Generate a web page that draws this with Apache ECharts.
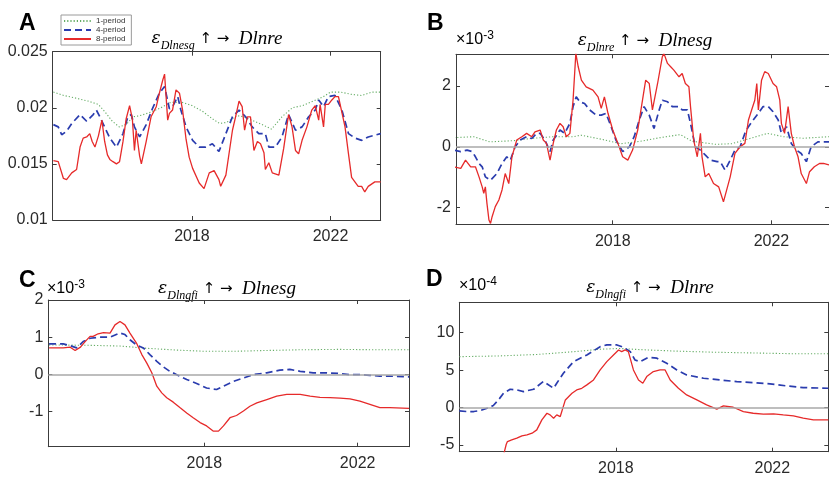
<!DOCTYPE html>
<html>
<head>
<meta charset="utf-8">
<script src="https://cdn.jsdelivr.net/npm/echarts@6/dist/echarts.min.js"></script>
<style>
html,body{margin:0;padding:0;background:#fff;}
#chart{width:829px;height:477px;}
</style>
</head>
<body>
<div id="chart"></div>
<script>
// data points are [year, value]; B and C in units of 1e-3, D in units of 1e-4
var seriesNames = ['1-period', '4-period', '8-period'];
var yearTicks = [2018, 2022];
var aTicks = [0.01, 0.015, 0.02, 0.025];
var bTicks = [-2, 0, 2];
var cTicks = [-1, 0, 1, 2];
var dTicks = [-5, 0, 5, 10];

// A: eps Dlnesg -> Dlnre
var aGreen = [[2014.00,0.0214],[2014.3,0.0211],[2014.6,0.0209],[2015.0,0.0206],[2015.3,0.0203],[2015.5,0.0196],[2015.7,0.0188],[2015.9,0.0183],[2016.1,0.0185],[2016.3,0.0192],[2016.5,0.0193],[2016.8,0.0196],[2017.1,0.0200],[2017.4,0.0205],[2017.7,0.0205],[2018.0,0.0202],[2018.3,0.0197],[2018.6,0.0190],[2018.8,0.0186],[2019.0,0.0187],[2019.3,0.0193],[2019.5,0.0192],[2019.8,0.0188],[2020.1,0.0184],[2020.3,0.0181],[2020.6,0.0192],[2020.9,0.0200],[2021.2,0.0202],[2021.5,0.0206],[2021.8,0.0210],[2022.0,0.0214],[2022.3,0.0214],[2022.6,0.0212],[2022.9,0.0211],[2023.2,0.0214],[2023.45,0.0214]];
var aBlue = [[2014.00,0.0185],[2014.14,0.0183],[2014.24,0.0176],[2014.38,0.0179],[2014.53,0.0186],[2014.77,0.0194],[2014.96,0.0188],[2015.15,0.0194],[2015.24,0.0198],[2015.34,0.0192],[2015.63,0.0173],[2015.82,0.0165],[2016.01,0.0177],[2016.15,0.0192],[2016.25,0.0194],[2016.34,0.0183],[2016.49,0.0174],[2016.68,0.0185],[2016.87,0.0200],[2017.06,0.0213],[2017.21,0.0219],[2017.35,0.0199],[2017.44,0.0201],[2017.59,0.0210],[2017.68,0.0198],[2017.83,0.0183],[2018.02,0.0171],[2018.21,0.0165],[2018.40,0.0165],[2018.59,0.0168],[2018.78,0.0161],[2018.98,0.0177],[2019.17,0.0192],[2019.36,0.0198],[2019.55,0.0192],[2019.74,0.0183],[2019.93,0.0177],[2020.12,0.0177],[2020.22,0.0165],[2020.41,0.0165],[2020.60,0.0174],[2020.79,0.0194],[2020.99,0.0180],[2021.18,0.0183],[2021.37,0.0192],[2021.56,0.0198],[2021.66,0.0207],[2021.80,0.0201],[2021.94,0.0210],[2022.13,0.0211],[2022.33,0.0198],[2022.52,0.0177],[2022.71,0.0173],[2022.90,0.0171],[2023.09,0.0174],[2023.45,0.0177]];
var aRed = [[2014.00,0.0153],[2014.14,0.0152],[2014.29,0.0137],[2014.38,0.0136],[2014.53,0.0142],[2014.67,0.0145],[2014.77,0.0165],[2014.86,0.0173],[2014.96,0.0174],[2015.05,0.0177],[2015.12,0.0170],[2015.20,0.0165],[2015.30,0.0175],[2015.40,0.0189],[2015.48,0.0170],[2015.56,0.0158],[2015.63,0.0154],[2015.72,0.0152],[2015.82,0.0150],[2015.91,0.0152],[2016.01,0.0170],[2016.10,0.0190],[2016.20,0.0202],[2016.28,0.0190],[2016.34,0.0162],[2016.39,0.0180],[2016.49,0.0157],[2016.54,0.0150],[2016.68,0.0170],[2016.82,0.0192],[2016.97,0.0201],[2017.06,0.0213],[2017.16,0.0225],[2017.21,0.0230],[2017.30,0.0189],[2017.35,0.0195],[2017.44,0.0198],[2017.54,0.0216],[2017.64,0.0213],[2017.73,0.0198],[2017.83,0.0172],[2017.92,0.0156],[2018.02,0.0146],[2018.21,0.0133],[2018.35,0.0128],[2018.50,0.0142],[2018.64,0.0144],[2018.78,0.0136],[2018.83,0.0130],[2018.98,0.0140],[2019.17,0.0180],[2019.26,0.0192],[2019.36,0.0206],[2019.45,0.0201],[2019.52,0.0180],[2019.60,0.0192],[2019.69,0.0192],[2019.79,0.0162],[2019.89,0.0170],[2019.98,0.0168],[2020.08,0.0160],[2020.12,0.0145],[2020.22,0.0151],[2020.32,0.0142],[2020.51,0.0140],[2020.65,0.0164],[2020.79,0.0194],[2020.89,0.0183],[2020.99,0.0162],[2021.08,0.0159],[2021.18,0.0171],[2021.32,0.0183],[2021.46,0.0198],[2021.56,0.0202],[2021.66,0.0189],[2021.70,0.0203],[2021.80,0.0183],[2021.85,0.0203],[2021.94,0.0203],[2022.04,0.0207],[2022.13,0.0210],[2022.23,0.0210],[2022.42,0.0183],[2022.52,0.0159],[2022.61,0.0138],[2022.80,0.0130],[2022.90,0.0130],[2022.99,0.0125],[2023.09,0.0130],[2023.28,0.0134],[2023.45,0.0134]];

// B: eps Dlnre -> Dlnesg (x1e-3)
var bGreen = [[2014.0,0.30],[2014.5,0.33],[2014.9,0.16],[2015.5,0.20],[2016.0,0.28],[2016.5,0.33],[2017.0,0.33],[2017.2,0.38],[2017.7,0.25],[2018.2,0.10],[2018.7,0.18],[2019.2,0.30],[2019.7,0.40],[2020.0,0.18],[2020.6,0.08],[2021.0,0.10],[2021.4,0.25],[2021.9,0.44],[2022.3,0.33],[2022.8,0.28],[2023.45,0.33]];
var bBlue = [[2014.00,-0.11],[2014.17,-0.16],[2014.33,-0.11],[2014.46,-0.16],[2014.54,-0.33],[2014.63,-0.55],[2014.71,-0.66],[2014.79,-0.99],[2014.92,-1.10],[2015.08,-0.88],[2015.21,-0.55],[2015.33,-0.33],[2015.42,-0.44],[2015.54,0],[2015.67,0.22],[2015.83,0.33],[2015.96,0.27],[2016.08,0.44],[2016.17,0.44],[2016.29,0.22],[2016.42,-0.16],[2016.50,0.22],[2016.67,0.55],[2016.79,0.44],[2016.92,0.77],[2017.00,1.32],[2017.08,1.64],[2017.17,1.48],[2017.29,1.42],[2017.42,1.21],[2017.58,1.04],[2017.71,1.04],[2017.83,1.10],[2017.96,0.66],[2018.08,0.22],[2018.25,-0.16],[2018.42,0],[2018.54,0.33],[2018.67,0.88],[2018.79,1.32],[2018.92,1.04],[2019.04,0.60],[2019.17,1.21],[2019.25,1.53],[2019.38,1.48],[2019.50,1.32],[2019.67,1.32],[2019.75,1.21],[2019.88,1.21],[2019.96,0.77],[2020.08,0],[2020.21,-0.11],[2020.33,-0.27],[2020.46,-0.44],[2020.63,-0.49],[2020.71,-0.49],[2020.83,-0.77],[2020.96,-0.44],[2021.08,-0.11],[2021.21,0],[2021.33,0.44],[2021.42,0.66],[2021.54,0.88],[2021.67,1.10],[2021.79,1.32],[2021.92,1.32],[2022.04,1.15],[2022.17,0.88],[2022.25,0.44],[2022.38,0.66],[2022.50,0.11],[2022.63,-0.11],[2022.75,-0.22],[2022.88,-0.49],[2023.00,0],[2023.17,0.16],[2023.31,0.16],[2023.45,0.16]];
var bRed = [[2014.00,-0.66],[2014.17,-0.71],[2014.29,-0.44],[2014.42,-0.66],[2014.54,-0.66],[2014.63,-0.99],[2014.71,-1.32],[2014.75,-1.53],[2014.79,-1.32],[2014.83,-1.86],[2014.88,-2.41],[2014.92,-2.52],[2014.96,-2.30],[2015.04,-1.97],[2015.13,-1.75],[2015.21,-1.42],[2015.29,-0.88],[2015.38,-1.21],[2015.46,-0.33],[2015.58,0.22],[2015.71,0.33],[2015.83,0.44],[2015.96,0.33],[2016.04,0.49],[2016.17,0.55],[2016.25,0.22],[2016.33,0.11],[2016.42,-0.44],[2016.50,0.11],[2016.58,0.55],[2016.67,0.77],[2016.75,0.66],[2016.83,0.33],[2016.92,0.44],[2017.00,1.53],[2017.07,3.07],[2017.13,2.63],[2017.21,2.19],[2017.33,1.97],[2017.50,1.86],[2017.63,1.64],[2017.71,1.26],[2017.79,1.64],[2017.88,1.10],[2018.00,0.55],[2018.13,0.11],[2018.25,-0.33],[2018.38,-0.44],[2018.50,-0.11],[2018.63,0.55],[2018.75,1.53],[2018.83,2.19],[2018.92,2.08],[2019.00,1.21],[2019.13,2.08],[2019.25,2.96],[2019.29,3.07],[2019.38,2.74],[2019.46,2.63],[2019.54,2.52],[2019.67,2.30],[2019.75,2.41],[2019.83,2.08],[2019.92,1.97],[2019.96,1.32],[2020.04,0.22],[2020.13,-0.33],[2020.21,0.44],[2020.25,-0.33],[2020.33,-0.99],[2020.42,-0.88],[2020.54,-1.21],[2020.67,-1.32],[2020.79,-1.81],[2020.83,-1.75],[2020.96,-0.99],[2021.08,-0.22],[2021.21,0],[2021.33,0.11],[2021.42,0.88],[2021.50,1.21],[2021.58,1.53],[2021.63,2.08],[2021.67,1.21],[2021.75,2.19],[2021.83,2.47],[2021.92,2.41],[2022.04,2.08],[2022.13,1.97],[2022.21,1.53],[2022.25,0.77],[2022.33,0.44],[2022.42,1.32],[2022.50,0.44],[2022.58,0],[2022.67,-0.33],[2022.75,-0.88],[2022.88,-1.21],[2022.96,-0.82],[2023.08,-0.66],[2023.21,-0.55],[2023.31,-0.55],[2023.45,-0.60]];

// C: eps Dlngfi -> Dlnesg (x1e-3)
var cGreen = [[2013.95,0.79],[2015.0,0.78],[2015.8,0.76],[2016.5,0.70],[2017.3,0.65],[2018.0,0.62],[2018.8,0.62],[2019.6,0.64],[2020.5,0.66],[2021.5,0.67],[2022.5,0.66],[2023.34,0.66]];
var cBlue = [[2013.95,0.82],[2014.32,0.82],[2014.50,0.77],[2014.67,0.71],[2014.84,0.88],[2015.02,0.97],[2015.28,1.00],[2015.54,1.00],[2015.80,1.11],[2015.93,1.07],[2016.06,0.93],[2016.23,0.79],[2016.41,0.71],[2016.58,0.53],[2016.76,0.35],[2016.93,0.20],[2017.10,0.08],[2017.28,-0.01],[2017.54,-0.14],[2017.80,-0.25],[2018.06,-0.37],[2018.32,-0.41],[2018.50,-0.32],[2018.76,-0.19],[2019.02,-0.10],[2019.28,-0.01],[2019.63,0.04],[2019.97,0.11],[2020.23,0.13],[2020.50,0.08],[2020.84,0.04],[2021.19,0.04],[2021.54,0.02],[2021.80,-0.01],[2022.06,-0.01],[2022.32,-0.03],[2022.58,-0.05],[2022.84,-0.05],[2023.34,-0.07]];
var cRed = [[2013.95,0.71],[2014.32,0.71],[2014.50,0.73],[2014.63,0.64],[2014.77,0.73],[2014.89,0.88],[2015.02,1.02],[2015.10,1.02],[2015.23,1.09],[2015.37,1.12],[2015.54,1.11],[2015.67,1.33],[2015.80,1.42],[2015.93,1.33],[2016.06,1.11],[2016.23,0.84],[2016.37,0.53],[2016.50,0.30],[2016.63,0.04],[2016.76,-0.32],[2016.89,-0.50],[2017.02,-0.63],[2017.19,-0.75],[2017.37,-0.90],[2017.54,-1.04],[2017.71,-1.17],[2017.89,-1.30],[2018.06,-1.39],[2018.23,-1.53],[2018.37,-1.53],[2018.50,-1.39],[2018.67,-1.17],[2018.84,-1.11],[2019.02,-0.99],[2019.19,-0.86],[2019.37,-0.77],[2019.63,-0.68],[2019.89,-0.59],[2020.15,-0.54],[2020.50,-0.54],[2020.76,-0.59],[2021.02,-0.62],[2021.28,-0.63],[2021.54,-0.64],[2021.80,-0.66],[2022.06,-0.72],[2022.32,-0.81],[2022.58,-0.90],[2022.84,-0.90],[2023.34,-0.92]];

// D: eps Dlngfi -> Dlnre (x1e-4)
var dGreen = [[2014.0,6.8],[2015.0,6.9],[2016.0,7.1],[2017.0,7.5],[2017.6,7.8],[2018.1,7.9],[2018.6,7.75],[2019.5,7.55],[2020.5,7.4],[2021.5,7.3],[2022.5,7.2],[2023.43,7.2]];
var dBlue = [[2014.00,-0.45],[2014.19,-0.53],[2014.37,-0.53],[2014.54,-0.40],[2014.71,-0.09],[2014.87,0.27],[2015.00,1.02],[2015.13,1.91],[2015.30,2.45],[2015.47,2.36],[2015.64,2.14],[2015.90,2.45],[2016.15,3.50],[2016.41,2.58],[2016.49,3.25],[2016.66,4.58],[2016.92,6.14],[2017.26,7.03],[2017.60,8.14],[2017.77,8.37],[2018.03,8.37],[2018.20,8.05],[2018.37,7.48],[2018.49,6.36],[2018.62,6.14],[2018.83,6.72],[2019.05,6.60],[2019.30,5.92],[2019.56,5.03],[2019.81,4.36],[2020.24,3.92],[2020.66,3.69],[2021.09,3.47],[2021.51,3.34],[2021.94,3.16],[2022.37,2.89],[2022.79,2.67],[2023.43,2.58]];
var dRed = [[2015.10,-7.0],[2015.20,-4.9],[2015.23,-4.54],[2015.34,-4.32],[2015.47,-4.09],[2015.60,-3.78],[2015.73,-3.65],[2015.86,-3.43],[2015.98,-2.98],[2016.11,-1.65],[2016.24,-0.76],[2016.32,-0.98],[2016.41,-1.42],[2016.49,-0.98],[2016.58,-1.20],[2016.71,1.02],[2016.88,1.91],[2017.00,2.36],[2017.13,2.58],[2017.26,3.03],[2017.43,3.69],[2017.60,5.03],[2017.77,6.14],[2017.94,7.03],[2018.07,7.70],[2018.15,7.48],[2018.24,7.70],[2018.32,7.48],[2018.45,5.03],[2018.58,3.69],[2018.69,3.25],[2018.79,4.14],[2018.96,4.81],[2019.13,5.03],[2019.26,5.03],[2019.39,3.69],[2019.60,2.58],[2019.81,1.69],[2020.07,1.02],[2020.32,0.36],[2020.58,-0.22],[2020.75,0.22],[2021.00,0.04],[2021.26,-0.53],[2021.51,-0.76],[2021.77,-0.89],[2022.03,-0.85],[2022.28,-0.98],[2022.54,-1.11],[2022.79,-1.42],[2023.05,-1.65],[2023.43,-1.65]];

var colors = ['#66ad66', '#2a3cae', '#e62a2a'];
var boxColor = '#3c3c3c';
var labelFont = 'Liberation Sans, Arial, sans-serif';

var panels = [
  {grid: {left: 52.7, top: 51.7, right: 448.3, bottom: 257}, x: [2013.98, 2023.45], y: [0.01, 0.025], yTicks: aTicks, data: [aGreen, aBlue, aRed], zero: false},
  {grid: {left: 456, top: 54.3, right: -6.8, bottom: 252.7}, x: [2014.05, 2023.45], y: [-2.55, 3.04], yTicks: bTicks, data: [bGreen, bBlue, bRed], zero: true},
  {grid: {left: 48.3, top: 300, right: 420, bottom: 30.3}, x: [2013.93, 2023.34], y: [-1.95, 2], yTicks: cTicks, data: [cGreen, cBlue, cRed], zero: true},
  {grid: {left: 459.3, top: 302.3, right: 0.7, bottom: 25.3}, x: [2014.0, 2023.43], y: [-5.9, 14.07], yTicks: dTicks, data: [dGreen, dBlue, dRed], zero: true}
];

var grids = [], xAxes = [], yAxes = [], series = [];
panels.forEach(function (p, i) {
  grids.push(p.grid);
  var line = {show: true, onZero: false, lineStyle: {color: boxColor, width: 1}};
  ['bottom', 'top'].forEach(function (pos) {
    xAxes.push({
      type: 'value', gridIndex: i, position: pos, min: p.x[0], max: p.x[1],
      axisLine: line, splitLine: {show: false},
      axisTick: {show: true, inside: true, length: 4, customValues: yearTicks, lineStyle: {color: boxColor}},
      axisLabel: {show: pos === 'bottom', customValues: yearTicks, margin: 9, fontSize: 16, color: '#2a2a2a', fontFamily: labelFont,
        formatter: function (v) { return String(v); }}
    });
  });
  ['left', 'right'].forEach(function (pos) {
    yAxes.push({
      type: 'value', gridIndex: i, position: pos, min: p.y[0], max: p.y[1],
      axisLine: line, splitLine: {show: false},
      axisTick: {show: true, inside: true, length: 4, customValues: p.yTicks, lineStyle: {color: boxColor}},
      axisLabel: {show: pos === 'left', customValues: p.yTicks, margin: 5, fontSize: 16, color: '#2a2a2a', fontFamily: labelFont,
        formatter: function (v) { return String(v); }}
    });
  });
  p.data.forEach(function (d, k) {
    var s = {
      name: seriesNames[k], type: 'line', xAxisIndex: 2 * i, yAxisIndex: 2 * i,
      data: d, symbol: 'none', showSymbol: false, clip: true, animation: false,
      itemStyle: {color: colors[k]},
      lineStyle: [
        {color: colors[k], width: 1.1, type: [1.2, 2]},
        {color: colors[k], width: 1.7, type: [7, 4]},
        {color: colors[k], width: 1.3, type: 'solid'}
      ][k]
    };
    if (k === 0 && p.zero) {
      s.markLine = {silent: true, symbol: ['none', 'none'], animation: false, label: {show: false},
        lineStyle: {color: '#a9a9a9', width: 1.5, type: 'solid'}, data: [{yAxis: 0}]};
    }
    series.push(s);
  });
});

var titleRich = {
  e: {fontFamily: 'DejaVu Serif, serif', fontStyle: 'italic', fontSize: 17, lineHeight: 26, color: '#222'},
  s: {fontFamily: 'Liberation Serif, serif', fontStyle: 'italic', fontSize: 12, lineHeight: 26, verticalAlign: 'bottom', color: '#222'},
  a: {fontFamily: 'DejaVu Sans, sans-serif', fontSize: 15, lineHeight: 26, color: '#222'},
  v: {fontFamily: 'Liberation Serif, serif', fontStyle: 'italic', fontSize: 19, lineHeight: 26, color: '#222'}
};
var expRich = {
  m: {fontFamily: labelFont, fontSize: 16, lineHeight: 20, color: '#2a2a2a'},
  p: {fontFamily: labelFont, fontSize: 12, lineHeight: 20, verticalAlign: 'top', color: '#2a2a2a'}
};
function titleText(x, y, sub, target) {
  return {type: 'text', x: x, y: y, style: {text: '{e|ε}{s|' + sub + '}{a| ↑ → }{v| ' + target + '}', rich: titleRich, align: 'center', verticalAlign: 'middle'}};
}
function letter(x, y, t) {
  return {type: 'text', x: x, y: y, style: {text: t, fontFamily: labelFont, fontWeight: 'bold', fontSize: 23, fill: '#000', verticalAlign: 'middle'}};
}
function expText(x, y, e) {
  return {type: 'text', x: x, y: y, style: {text: '{m|×10}{p|' + e + '}', rich: expRich, verticalAlign: 'middle'}};
}

var chart = echarts.init(document.getElementById('chart'));
chart.setOption({
  animation: false,
  backgroundColor: '#fff',
  grid: grids,
  xAxis: xAxes,
  yAxis: yAxes,
  series: series,
  legend: {
    data: seriesNames, orient: 'vertical', left: 61, top: 15,
    itemWidth: 27, itemHeight: 6, itemGap: 1, padding: [2, 6, 2, 2],
    borderColor: '#9a9a9a', borderWidth: 1, backgroundColor: '#fff',
    itemStyle: {opacity: 0},
    textStyle: {fontSize: 8, color: '#333', fontFamily: labelFont}
  },
  graphic: [
    letter(19, 24, 'A'), letter(427, 24, 'B'), letter(19, 281, 'C'), letter(426, 280, 'D'),
    titleText(217, 39, 'Dlnesg', 'Dlnre'),
    titleText(645, 41, 'Dlnre', 'Dlnesg'),
    titleText(227, 289, 'Dlngfi', 'Dlnesg'),
    titleText(650, 288, 'Dlngfi', 'Dlnre'),
    expText(456, 40, '-3'), expText(47, 289, '-3'), expText(459, 286, '-4')
  ]
});
</script>
</body>
</html>
